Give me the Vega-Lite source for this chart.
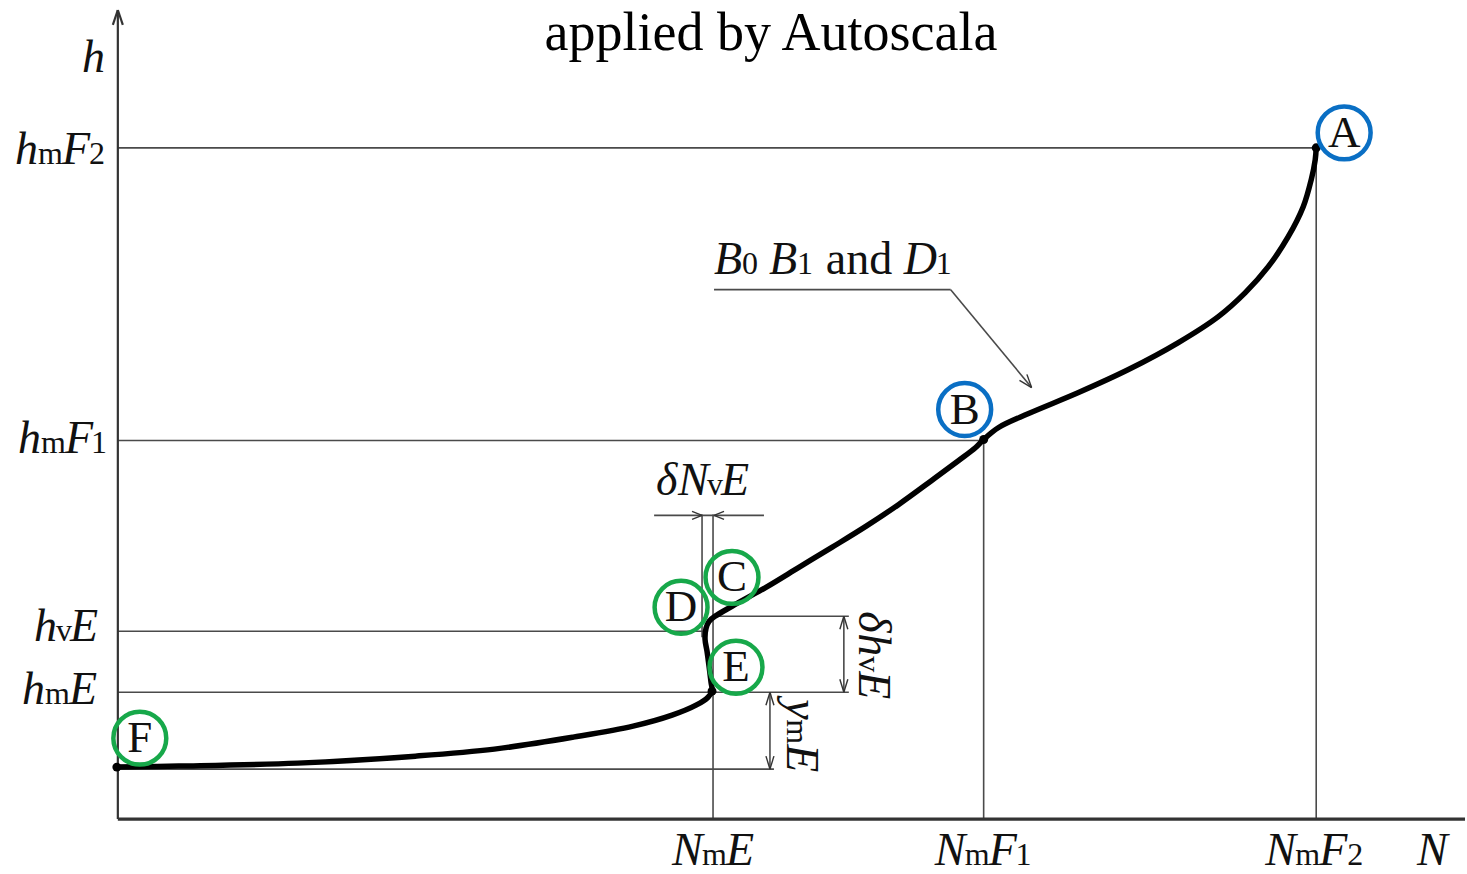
{
  "$schema": "https://vega.github.io/schema/vega-lite/v6.json",
  "width": 1467,
  "height": 874,
  "autosize": {"type": "fit", "contains": "padding"},
  "padding": 0,
  "background": "white",
  "config": {"view": {"stroke": null}},
  "datasets": {
    "segs": [
      {"role": "axis", "n": 0, "h": 0, "n2": 0, "h2": 810},
      {"role": "xaxis", "n": 0, "h": 0, "n2": 1349, "h2": 0},
      {"role": "axis", "n": 0, "h": 810, "n2": -5, "h2": 795},
      {"role": "axis", "n": 0, "h": 810, "n2": 5, "h2": 795},
      {"role": "guide", "n": 0, "h": 672, "n2": 1200, "h2": 672},
      {"role": "guide", "n": 1200, "h": 672, "n2": 1200, "h2": 0},
      {"role": "guide", "n": 0, "h": 379, "n2": 867, "h2": 379},
      {"role": "guide", "n": 867, "h": 379, "n2": 867, "h2": 0},
      {"role": "guide", "n": 0, "h": 188, "n2": 587, "h2": 188},
      {"role": "guide", "n": 0, "h": 127, "n2": 732, "h2": 127},
      {"role": "guide", "n": 0, "h": 50, "n2": 657, "h2": 50},
      {"role": "guide", "n": 600, "h": 203, "n2": 732, "h2": 203},
      {"role": "guide", "n": 596, "h": 305, "n2": 596, "h2": 0},
      {"role": "guide", "n": 585, "h": 305, "n2": 585, "h2": 182},
      {"role": "guide", "n": 537, "h": 304, "n2": 647, "h2": 304},
      {"role": "guide", "n": 727, "h": 203, "n2": 727, "h2": 127},
      {"role": "guide", "n": 653, "h": 127, "n2": 653, "h2": 50},
      {"role": "guide", "n": 597, "h": 530, "n2": 834, "h2": 530},
      {"role": "guide", "n": 834, "h": 530, "n2": 915, "h2": 432},
      {"role": "head", "n": 585, "h": 304, "n2": 575, "h2": 308},
      {"role": "head", "n": 585, "h": 304, "n2": 575, "h2": 300},
      {"role": "head", "n": 597, "h": 304, "n2": 607, "h2": 308},
      {"role": "head", "n": 597, "h": 304, "n2": 607, "h2": 300},
      {"role": "head", "n": 727, "h": 203, "n2": 723, "h2": 190},
      {"role": "head", "n": 727, "h": 203, "n2": 731, "h2": 190},
      {"role": "head", "n": 727, "h": 127, "n2": 723, "h2": 140},
      {"role": "head", "n": 727, "h": 127, "n2": 731, "h2": 140},
      {"role": "head", "n": 653, "h": 127, "n2": 649, "h2": 114},
      {"role": "head", "n": 653, "h": 127, "n2": 657, "h2": 114},
      {"role": "head", "n": 653, "h": 50, "n2": 649, "h2": 63},
      {"role": "head", "n": 653, "h": 50, "n2": 657, "h2": 63},
      {"role": "head", "n": 915, "h": 432, "n2": 910.3, "h2": 445.2},
      {"role": "head", "n": 915, "h": 432, "n2": 902.9, "h2": 439.1}
    ],
    "curve": [
      {"i": 1, "n": -1, "h": 52},
      {"i": 2, "n": 61, "h": 53},
      {"i": 3, "n": 180, "h": 56},
      {"i": 4, "n": 298, "h": 63},
      {"i": 5, "n": 377, "h": 70},
      {"i": 6, "n": 456, "h": 82},
      {"i": 7, "n": 516, "h": 93},
      {"i": 8, "n": 555, "h": 104},
      {"i": 9, "n": 579, "h": 114},
      {"i": 10, "n": 591, "h": 122},
      {"i": 11, "n": 595, "h": 128},
      {"i": 12, "n": 594, "h": 137},
      {"i": 13, "n": 592, "h": 153},
      {"i": 14, "n": 590, "h": 168},
      {"i": 15, "n": 588, "h": 180},
      {"i": 16, "n": 589, "h": 191},
      {"i": 17, "n": 592, "h": 198},
      {"i": 18, "n": 598, "h": 203},
      {"i": 19, "n": 615, "h": 213},
      {"i": 20, "n": 649, "h": 232},
      {"i": 21, "n": 682, "h": 252},
      {"i": 22, "n": 715, "h": 272},
      {"i": 23, "n": 749, "h": 293},
      {"i": 24, "n": 782, "h": 315},
      {"i": 25, "n": 815, "h": 339},
      {"i": 26, "n": 842, "h": 359},
      {"i": 27, "n": 859, "h": 372},
      {"i": 28, "n": 867, "h": 380},
      {"i": 29, "n": 882, "h": 392},
      {"i": 30, "n": 912, "h": 406},
      {"i": 31, "n": 962, "h": 427},
      {"i": 32, "n": 1012, "h": 450},
      {"i": 33, "n": 1062, "h": 477},
      {"i": 34, "n": 1102, "h": 503},
      {"i": 35, "n": 1129, "h": 527},
      {"i": 36, "n": 1152, "h": 553},
      {"i": 37, "n": 1172, "h": 583},
      {"i": 38, "n": 1187, "h": 613},
      {"i": 39, "n": 1195, "h": 640},
      {"i": 40, "n": 1199, "h": 660},
      {"i": 41, "n": 1200, "h": 672}
    ],
    "nodes": [
      {"name": "A", "n": 1200, "h": 672},
      {"name": "B", "n": 867, "h": 380},
      {"name": "E", "n": 595, "h": 128},
      {"name": "F", "n": -1, "h": 52}
    ],
    "circles": [
      {"name": "A", "layer": "F region", "n": 1228, "h": 687},
      {"name": "B", "layer": "F region", "n": 848, "h": 410},
      {"name": "C", "layer": "E region", "n": 615, "h": 242},
      {"name": "D", "layer": "E region", "n": 564, "h": 212},
      {"name": "E", "layer": "E region", "n": 619, "h": 152},
      {"name": "F", "layer": "E region", "n": 22, "h": 81}
    ],
    "labels": [
      {"role": "it", "text": "h", "n": -36, "h": 748},
      {"role": "it", "text": "h", "n": -103, "h": 656},
      {"role": "sub", "text": "m", "n": -80, "h": 656},
      {"role": "it", "text": "F", "n": -56, "h": 656},
      {"role": "sub", "text": "2", "n": -29, "h": 656},
      {"role": "it", "text": "h", "n": -100, "h": 366},
      {"role": "sub", "text": "m", "n": -77, "h": 366},
      {"role": "it", "text": "F", "n": -53, "h": 366},
      {"role": "sub", "text": "1", "n": -27, "h": 366},
      {"role": "it", "text": "h", "n": -84, "h": 178},
      {"role": "sub", "text": "v", "n": -62, "h": 178},
      {"role": "it", "text": "E", "n": -48, "h": 178},
      {"role": "it", "text": "h", "n": -96, "h": 115},
      {"role": "sub", "text": "m", "n": -73, "h": 115},
      {"role": "it", "text": "E", "n": -49, "h": 115},
      {"role": "it", "text": "N", "n": 555, "h": -46},
      {"role": "sub", "text": "m", "n": 585, "h": -46},
      {"role": "it", "text": "E", "n": 609, "h": -46},
      {"role": "it", "text": "N", "n": 818, "h": -46},
      {"role": "sub", "text": "m", "n": 848, "h": -46},
      {"role": "it", "text": "F", "n": 872, "h": -46},
      {"role": "sub", "text": "1", "n": 899, "h": -46},
      {"role": "it", "text": "N", "n": 1149, "h": -46},
      {"role": "sub", "text": "m", "n": 1179, "h": -46},
      {"role": "it", "text": "F", "n": 1203, "h": -46},
      {"role": "sub", "text": "2", "n": 1231, "h": -46},
      {"role": "it", "text": "N", "n": 1301, "h": -46},
      {"role": "it", "text": "δ", "n": 539, "h": 324},
      {"role": "it", "text": "N", "n": 561, "h": 324},
      {"role": "sub", "text": "v", "n": 590, "h": 324},
      {"role": "it", "text": "E", "n": 604, "h": 324},
      {"role": "it", "text": "B", "n": 597, "h": 546},
      {"role": "sub", "text": "0", "n": 625, "h": 546},
      {"role": "it", "text": "B", "n": 652, "h": 546},
      {"role": "sub", "text": "1", "n": 680, "h": 546},
      {"role": "rm", "text": "and", "n": 709, "h": 546},
      {"role": "it", "text": "D", "n": 787, "h": 546},
      {"role": "sub", "text": "1", "n": 819, "h": 546},
      {"role": "itR", "text": "δ", "n": 742, "h": 208},
      {"role": "itR", "text": "h", "n": 742, "h": 186},
      {"role": "subR", "text": "v", "n": 742, "h": 163},
      {"role": "itR", "text": "E", "n": 742, "h": 148},
      {"role": "itR", "text": "y", "n": 670, "h": 120},
      {"role": "subR", "text": "m", "n": 670, "h": 100},
      {"role": "itR", "text": "E", "n": 670, "h": 75}
    ],
    "title": [
      {"text": "applied by Autoscala", "n": 654, "h": 770}
    ]
  },
  "layer": [
    {
      "data": {"name": "segs"},
      "transform": [{"filter": "datum.role === 'guide'"}],
      "mark": {"type": "rule", "color": "#4a4a4a", "strokeWidth": 1.6},
      "encoding": {
        "x": {"field": "n", "type": "quantitative", "scale": {"domain": [-118, 1349], "nice": false, "zero": false}, "axis": null},
        "y": {"field": "h", "type": "quantitative", "scale": {"domain": [-54, 820], "nice": false, "zero": false}, "axis": null},
        "x2": {"field": "n2"},
        "y2": {"field": "h2"}
      }
    },
    {
      "data": {"name": "segs"},
      "transform": [{"filter": "datum.role === 'head'"}],
      "mark": {"type": "rule", "color": "#333333", "strokeWidth": 1.4},
      "encoding": {
        "x": {"field": "n", "type": "quantitative", "axis": null},
        "y": {"field": "h", "type": "quantitative", "axis": null},
        "x2": {"field": "n2"},
        "y2": {"field": "h2"}
      }
    },
    {
      "data": {"name": "segs"},
      "transform": [{"filter": "datum.role === 'axis'"}],
      "mark": {"type": "rule", "color": "#333333", "strokeWidth": 2.2},
      "encoding": {
        "x": {"field": "n", "type": "quantitative", "axis": null},
        "y": {"field": "h", "type": "quantitative", "axis": null},
        "x2": {"field": "n2"},
        "y2": {"field": "h2"}
      }
    },
    {
      "data": {"name": "segs"},
      "transform": [{"filter": "datum.role === 'xaxis'"}],
      "mark": {"type": "rule", "color": "#333333", "strokeWidth": 3.2},
      "encoding": {
        "x": {"field": "n", "type": "quantitative", "axis": null},
        "y": {"field": "h", "type": "quantitative", "axis": null},
        "x2": {"field": "n2"},
        "y2": {"field": "h2"}
      }
    },
    {
      "data": {"name": "curve"},
      "mark": {"type": "line", "color": "#000000", "strokeWidth": 5.5, "interpolate": "catmull-rom", "strokeCap": "round"},
      "encoding": {
        "x": {"field": "n", "type": "quantitative", "axis": null},
        "y": {"field": "h", "type": "quantitative", "axis": null},
        "order": {"field": "i", "type": "quantitative"}
      }
    },
    {
      "data": {"name": "nodes"},
      "mark": {"type": "point", "filled": true, "color": "#000000", "size": 80, "opacity": 1},
      "encoding": {
        "x": {"field": "n", "type": "quantitative", "axis": null},
        "y": {"field": "h", "type": "quantitative", "axis": null}
      }
    },
    {
      "data": {"name": "circles"},
      "mark": {"type": "point", "shape": "circle", "filled": false, "size": 2800, "strokeWidth": 4.5, "opacity": 1},
      "encoding": {
        "x": {"field": "n", "type": "quantitative", "axis": null},
        "y": {"field": "h", "type": "quantitative", "axis": null},
        "stroke": {"field": "layer", "type": "nominal", "scale": {"domain": ["F region", "E region"], "range": ["#0a6fc4", "#17a84a"]}, "legend": null}
      }
    },
    {
      "data": {"name": "circles"},
      "mark": {"type": "text", "font": "Liberation Serif", "fontSize": 45, "align": "center", "baseline": "middle", "color": "#111111"},
      "encoding": {
        "x": {"field": "n", "type": "quantitative", "axis": null},
        "y": {"field": "h", "type": "quantitative", "axis": null},
        "text": {"field": "name"}
      }
    },
    {
      "data": {"name": "labels"},
      "transform": [{"filter": "datum.role === 'it'"}],
      "mark": {"type": "text", "font": "Liberation Serif", "fontStyle": "italic", "fontSize": 46, "align": "left", "baseline": "alphabetic", "color": "#111111"},
      "encoding": {
        "x": {"field": "n", "type": "quantitative", "axis": null},
        "y": {"field": "h", "type": "quantitative", "axis": null},
        "text": {"field": "text"}
      }
    },
    {
      "data": {"name": "labels"},
      "transform": [{"filter": "datum.role === 'sub'"}],
      "mark": {"type": "text", "font": "Liberation Serif", "fontSize": 32, "align": "left", "baseline": "alphabetic", "color": "#111111"},
      "encoding": {
        "x": {"field": "n", "type": "quantitative", "axis": null},
        "y": {"field": "h", "type": "quantitative", "axis": null},
        "text": {"field": "text"}
      }
    },
    {
      "data": {"name": "labels"},
      "transform": [{"filter": "datum.role === 'rm'"}],
      "mark": {"type": "text", "font": "Liberation Serif", "fontSize": 46, "align": "left", "baseline": "alphabetic", "color": "#111111"},
      "encoding": {
        "x": {"field": "n", "type": "quantitative", "axis": null},
        "y": {"field": "h", "type": "quantitative", "axis": null},
        "text": {"field": "text"}
      }
    },
    {
      "data": {"name": "labels"},
      "transform": [{"filter": "datum.role === 'itR'"}],
      "mark": {"type": "text", "font": "Liberation Serif", "fontStyle": "italic", "fontSize": 46, "align": "left", "baseline": "alphabetic", "angle": 90, "color": "#111111"},
      "encoding": {
        "x": {"field": "n", "type": "quantitative", "axis": null},
        "y": {"field": "h", "type": "quantitative", "axis": null},
        "text": {"field": "text"}
      }
    },
    {
      "data": {"name": "labels"},
      "transform": [{"filter": "datum.role === 'subR'"}],
      "mark": {"type": "text", "font": "Liberation Serif", "fontSize": 32, "align": "left", "baseline": "alphabetic", "angle": 90, "color": "#111111"},
      "encoding": {
        "x": {"field": "n", "type": "quantitative", "axis": null},
        "y": {"field": "h", "type": "quantitative", "axis": null},
        "text": {"field": "text"}
      }
    },
    {
      "data": {"name": "title"},
      "mark": {"type": "text", "font": "Liberation Serif", "fontSize": 54, "align": "center", "baseline": "alphabetic", "color": "#000000"},
      "encoding": {
        "x": {"field": "n", "type": "quantitative", "axis": null},
        "y": {"field": "h", "type": "quantitative", "axis": null},
        "text": {"field": "text"}
      }
    }
  ]
}
